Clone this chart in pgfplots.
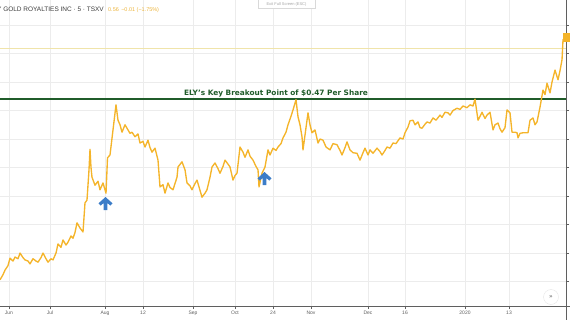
\documentclass[border=0pt]{standalone}
\usepackage{pgfplots}
\pgfplotsset{compat=1.18}
\usepackage{fontspec}
\setmainfont{Liberation Sans}
\newfontfamily\dejavu{DejaVu Sans}
\definecolor{price}{RGB}{244,180,42}
\definecolor{brk}{RGB}{32,92,42}
\definecolor{arrowblue}{RGB}{60,125,200}
\definecolor{gridc}{RGB}{236,236,236}
\definecolor{axc}{RGB}{95,95,95}
\definecolor{lastline}{RGB}{240,228,170}

\begin{document}
\begin{tikzpicture}
\begin{axis}[
    name=ax,
    scale only axis, width=566bp, height=306bp,
    xmin=0, xmax=566, ymin=0.1071, ymax=0.6439,
    clip=false,
    axis line style={draw=none},
    xtick={9,50,105,143,193,235,273,311,368,405,465,509},
    xticklabels={Jun,Jul,Aug,12,Sep,Oct,24,Nov,Dec,16,2020,13},
    ytick={0.15,0.2,0.25,0.3,0.35,0.4,0.45,0.5,0.55,0.6},
    yticklabels={},
    xtick pos=bottom, ytick pos=right,
    tick align=outside, major tick length=3bp,
    tick style={axc, line width=0.5bp},
    grid=major, major grid style={gridc, line width=0.6bp},
    xticklabel style={font=\fontsize{5}{6}\selectfont, text=axc, inner sep=1.5bp},
]
% last price line
\addplot[lastline, line width=0.6bp] coordinates {(0,0.56)(566,0.56)};
% key breakout level
\addplot[brk, line width=1.6bp] coordinates {(0,0.47)(566,0.47)};
% price, 5 min
\addplot[price, line width=1.35bp, line join=round] coordinates {
(0,0.153)(3,0.162)(5,0.170)(8,0.178)(10,0.191)(13,0.186)(15,0.193)(18,0.190)(20,0.200)
(23,0.192)(25,0.188)(28,0.186)(30,0.181)(33,0.190)(36,0.186)(38,0.184)(41,0.192)(43,0.200)
(46,0.190)(48,0.184)(51,0.190)(53,0.188)(56,0.200)(58,0.216)(61,0.210)(63,0.223)(66,0.214)
(68,0.219)(71,0.230)(73,0.226)(75,0.236)(77,0.253)(80,0.244)(83,0.237)(85,0.288)(87,0.293)
(89,0.346)(90,0.382)(91,0.350)(92,0.333)(95,0.319)(98,0.326)(100,0.311)(103,0.323)(106,0.305)
(107,0.346)(107.5,0.367)(110,0.372)(113,0.416)(116,0.460)(118,0.433)(120,0.425)(122,0.412)
(125,0.425)(127,0.419)(130,0.410)(132,0.412)(135,0.404)(138,0.409)(140,0.393)(143,0.396)
(145,0.386)(148,0.398)(150,0.385)(152,0.377)(155,0.384)(158,0.363)(160,0.316)(163,0.320)
(165,0.305)(168,0.323)(170,0.315)(173,0.311)(177,0.333)(178,0.351)(182,0.360)(185,0.346)
(187,0.323)(190,0.318)(192,0.311)(195,0.322)(197,0.328)(200,0.310)(202,0.298)(205,0.305)
(207,0.311)(210,0.333)(212,0.351)(215,0.358)(218,0.348)(220,0.340)(223,0.352)(225,0.363)
(228,0.356)(230,0.351)(233,0.328)(235,0.336)(237,0.340)(240,0.386)(243,0.377)(245,0.368)
(248,0.381)(250,0.370)(253,0.363)(256,0.352)(258,0.346)(259,0.316)(262,0.340)(265,0.351)
(268,0.381)(270,0.372)(273,0.384)(276,0.380)(278,0.386)(281,0.392)(283,0.402)(286,0.412)
(288,0.425)(291,0.440)(293,0.451)(296,0.469)(298,0.439)(300,0.425)(302,0.404)(303,0.381)
(306,0.420)(308,0.446)(310,0.425)(312,0.411)(315,0.416)(318,0.393)(320,0.400)(323,0.398)
(326,0.386)(330,0.381)(333,0.392)(337,0.390)(340,0.380)(342,0.372)(345,0.385)(347,0.395)
(350,0.381)(353,0.376)(357,0.375)(360,0.363)(363,0.376)(365,0.384)(368,0.372)(370,0.381)
(373,0.375)(377,0.384)(380,0.378)(382,0.372)(385,0.380)(387,0.386)(390,0.384)(393,0.393)
(396,0.392)(400,0.402)(403,0.400)(405,0.411)(408,0.421)(410,0.432)(413,0.433)(415,0.425)
(418,0.430)(420,0.420)(422,0.419)(425,0.426)(427,0.430)(430,0.428)(433,0.437)(436,0.433)
(440,0.442)(442,0.438)(445,0.447)(448,0.446)(450,0.442)(453,0.450)(457,0.454)(460,0.452)
(463,0.458)(467,0.455)(470,0.460)(473,0.458)(475,0.470)(478,0.433)(480,0.440)(482,0.447)
(485,0.436)(487,0.442)(490,0.447)(493,0.416)(495,0.425)(498,0.428)(500,0.418)(502,0.412)
(505,0.420)(507,0.451)(510,0.446)(512,0.412)(515,0.412)(517,0.411)(518,0.402)(520,0.410)
(523,0.411)(526,0.411)(528,0.411)(530,0.433)(533,0.437)(535,0.425)(537,0.430)(540,0.456)
(543,0.486)(545,0.478)(547,0.498)(550,0.481)(552,0.500)(555,0.521)(558,0.504)(560,0.520)
(562,0.539)(563,0.574)(566,0.579)
};
\end{axis}
% everything below in the reference's pixel coordinates, origin at top left of the plot
\begin{scope}[shift={(ax.north west)}, x=1bp, y=-1bp]
% frame lines
\draw[axc, line width=0.6bp] (0,306) -- (570,306);
\draw[axc, line width=0.6bp] (566,0) -- (566,320);
% annotation text
\node[anchor=base, text=brk, inner sep=0pt] at (276,95)
  {\dejavu\bfseries\fontsize{7.4}{8}\selectfont ELY’s Key Breakout Point of \$0.47 Per Share};
% blue arrows
\foreach \ax/\ay in {105.5/197, 264.5/172}{
  \fill[arrowblue, shift={(\ax,\ay)}]
    (0,0) -- (7,6.3) -- (4.8,8.6) -- (1.9,6) -- (1.9,13) -- (-1.9,13)
    -- (-1.9,6) -- (-4.8,8.6) -- (-7,6.3) -- cycle;
}
% header
\node[anchor=base east, inner sep=0pt, text={rgb,255:red,60;green,60;blue,60}] at (104,11)
  {\fontsize{6.5}{7}\selectfont ELY GOLD ROYALTIES INC · 5 · TSXV};
\node[anchor=base west, inner sep=0pt, text={rgb,255:red,236;green,180;blue,60}] at (108,11)
  {\fontsize{5.5}{6}\selectfont 0.56 \,−0.01 (−1.75\%)};
\draw[gray!30, fill=white, line width=0.4bp] (258,-3) rectangle (315,8);
\node[text=gray!70, inner sep=0pt] at (286.5,4) {\fontsize{4}{5}\selectfont Exit Full Screen (ESC)};
% last price tag
\fill[price] (563,33) rectangle (572,42);
% scroll button
\draw[gray!20, fill=white, line width=0.4bp] (551,297) circle (7.5);
\node[text=axc, inner sep=0pt] at (551,297) {\dejavu\fontsize{6}{6}\selectfont »};
% page = reference frame
\pgfresetboundingbox
\path[use as bounding box] (0,0) rectangle (570,320);
\end{scope}
\end{tikzpicture}
\end{document}
